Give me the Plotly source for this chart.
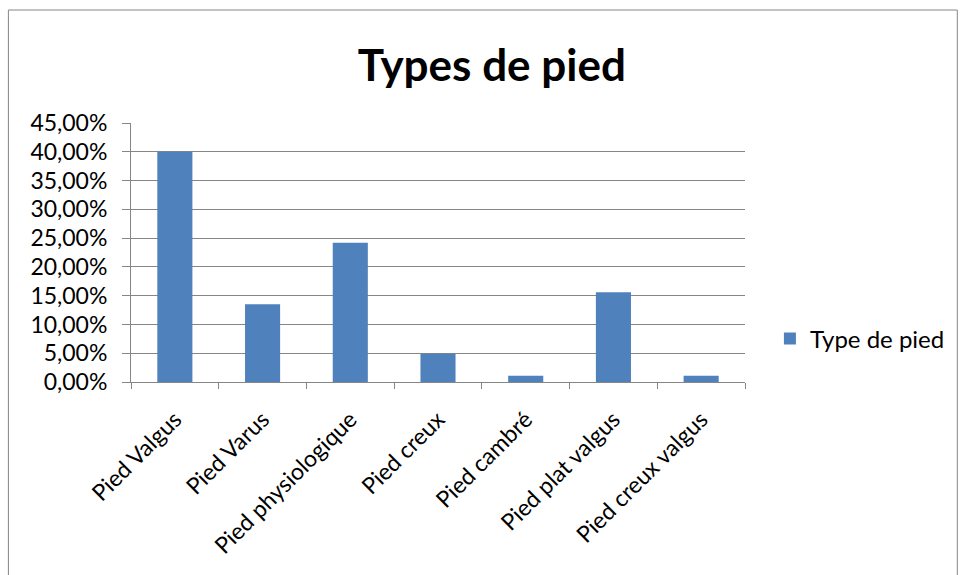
import plotly.graph_objects as go

categories = ["Pied Valgus", "Pied Varus", "Pied physiologique", "Pied creux",
              "Pied cambré", "Pied plat valgus", "Pied creux valgus"]
values = [0.400, 0.135, 0.242, 0.049, 0.011, 0.156, 0.011]
series_name = "Type de pied"
title_text = "Types de pied"

W, H = 962, 575
L, R, T, B = 131, 747, 123, 382  # plot area in px

def px_x(p):
    return (p - L) / (R - L)

def px_y(p):
    return (B - p) / (B - T)

font = "Lato, Open Sans, sans-serif"
grid = "#868686"

fig = go.Figure()
fig.add_trace(go.Bar(x=categories, y=values, name=series_name,
                     marker=dict(color="#4F81BD", line=dict(width=0)),
                     showlegend=True))

fig.update_layout(
    width=W, height=H,
    margin=dict(l=L, r=W - R, t=T, b=H - B, pad=0),
    paper_bgcolor="white", plot_bgcolor="white",
    separators=", ",
    bargap=0.6,
    font=dict(family=font, color="black", size=22),
    title=dict(text="<b>" + title_text + "</b>", font=dict(family=font, size=44, color="black"),
               x=px_x(493), xref="paper", xanchor="center",
               y=1 - 66 / H, yref="container", yanchor="middle"),
    showlegend=True,
    legend=dict(x=px_x(772), y=px_y(339), xanchor="left", yanchor="middle",
                font=dict(family=font, size=24, color="black"),
                bgcolor="rgba(0,0,0,0)", itemwidth=30),
    xaxis=dict(showgrid=False, showline=True, linecolor=grid, linewidth=1,
               ticks="outside", tickson="boundaries", ticklen=6, tickcolor=grid,
               tickangle=-45, ticklabelstandoff=14,
               tickfont=dict(family=font, size=23, color="black"),
               zeroline=False),
    yaxis=dict(range=[0, 0.45], dtick=0.05, tickformat=".2%",
               showgrid=True, gridcolor=grid, gridwidth=1,
               showline=True, linecolor=grid, linewidth=1,
               ticks="outside", ticklen=8, tickcolor=grid,
               ticklabelstandoff=10,
               tickfont=dict(family=font, size=23, color="black"),
               zeroline=False),
)

fig.add_shape(type="rect", xref="paper", yref="paper",
              x0=px_x(8), x1=px_x(960), y0=px_y(580), y1=px_y(10),
              line=dict(color="#868686", width=1), fillcolor="rgba(0,0,0,0)",
              layer="below")

fig.write_html("out.html")
